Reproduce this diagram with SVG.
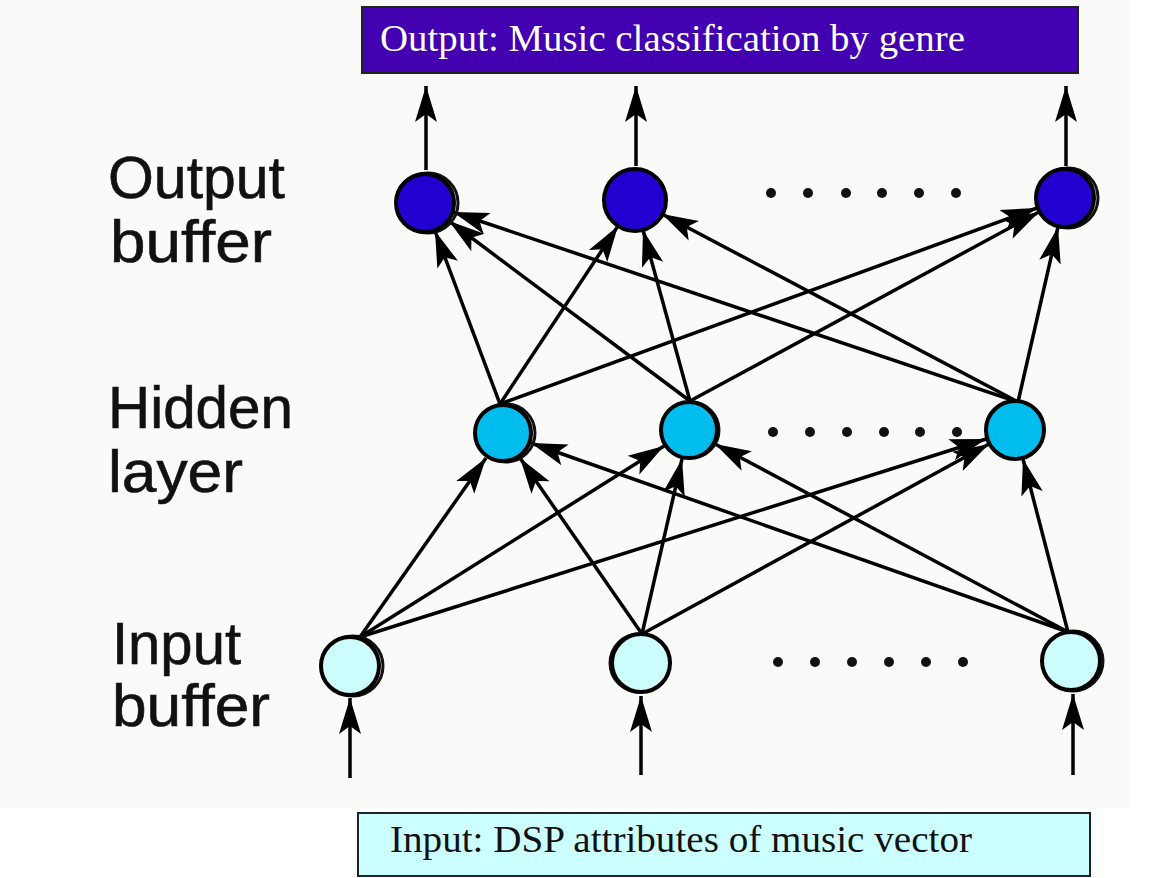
<svg xmlns="http://www.w3.org/2000/svg" width="1154" height="878" viewBox="0 0 1154 878">
<style>
.lbl{font-family:"Liberation Sans",Arial,sans-serif;font-size:60px;fill:#111;stroke:#111;stroke-width:0.6}
.box-t{font-family:"Liberation Serif","Times New Roman",serif;font-size:38px}
.edge{stroke:#000;stroke-width:3.5;fill:none;marker-end:url(#ah)}
.ring{fill:none;stroke:#111;stroke-width:3}
.out{fill:#2200D0;stroke:#000;stroke-width:4}
.hid{fill:#00BDEE;stroke:#000;stroke-width:4}
.inp{fill:#CCFCFC;stroke:#000;stroke-width:4}
.dot{fill:#111}
</style>
<defs>
<marker id="ah" markerUnits="userSpaceOnUse" markerWidth="40" markerHeight="24" refX="36" refY="11" orient="auto" overflow="visible">
<path d="M0,0 L36,11 L0,22 L8,11 z" fill="#000"/>
</marker>
</defs>
<rect x="0" y="0" width="1154" height="878" fill="#ffffff"/>
<rect x="0" y="0" width="1130" height="808" fill="#FAFAF8"/>

<g id="output-box">
<rect x="362" y="7" width="716" height="66" fill="#4200B0" stroke="#222" stroke-width="2"/>
<text class="box-t" x="380" y="51" fill="#ffffff" textLength="585" lengthAdjust="spacingAndGlyphs">Output: Music classification by genre</text>
</g>
<g id="input-box">
<rect x="358" y="813" width="732" height="63" fill="#CCFFFF" stroke="#222" stroke-width="2"/>
<text class="box-t" x="390" y="852" fill="#111" textLength="582" lengthAdjust="spacingAndGlyphs">Input: DSP attributes of music vector</text>
</g>

<g id="labels">
<text class="lbl" x="108" y="198" textLength="177" lengthAdjust="spacingAndGlyphs">Output</text>
<text class="lbl" x="110" y="262" textLength="162" lengthAdjust="spacingAndGlyphs">buffer</text>
<text class="lbl" x="108" y="428" textLength="185" lengthAdjust="spacingAndGlyphs">Hidden</text>
<text class="lbl" x="108" y="492" textLength="135" lengthAdjust="spacingAndGlyphs">layer</text>
<text class="lbl" x="112" y="664" textLength="129" lengthAdjust="spacingAndGlyphs">Input</text>
<text class="lbl" x="112" y="726" textLength="158" lengthAdjust="spacingAndGlyphs">buffer</text>
</g>

<g id="connectors">
<line class="edge" x1="350" y1="778" x2="350" y2="698"/>
<line class="edge" x1="641" y1="775" x2="641" y2="696"/>
<line class="edge" x1="1073" y1="775" x2="1073" y2="694"/>
<line class="edge" x1="426" y1="170" x2="426" y2="86"/>
<line class="edge" x1="636" y1="166" x2="636" y2="86"/>
<line class="edge" x1="1066" y1="166" x2="1066" y2="86"/>

<line class="edge" x1="360" y1="637" x2="486" y2="458"/>
<line class="edge" x1="360" y1="637" x2="664" y2="446"/>
<line class="edge" x1="360" y1="637" x2="986" y2="439"/>
<line class="edge" x1="642" y1="634" x2="520" y2="458"/>
<line class="edge" x1="642" y1="634" x2="682" y2="459"/>
<line class="edge" x1="642" y1="634" x2="989" y2="444"/>
<line class="edge" x1="1068" y1="632" x2="531" y2="443"/>
<line class="edge" x1="1068" y1="632" x2="715" y2="444"/>
<line class="edge" x1="1068" y1="632" x2="1023" y2="459"/>

<line class="edge" x1="500" y1="404" x2="435" y2="231"/>
<line class="edge" x1="500" y1="404" x2="618" y2="226"/>
<line class="edge" x1="500" y1="404" x2="1037" y2="208"/>
<line class="edge" x1="690" y1="401" x2="449" y2="221"/>
<line class="edge" x1="690" y1="401" x2="643" y2="230"/>
<line class="edge" x1="690" y1="401" x2="1039" y2="212"/>
<line class="edge" x1="1018" y1="402" x2="453" y2="212"/>
<line class="edge" x1="1018" y1="402" x2="662" y2="214"/>
<line class="edge" x1="1018" y1="402" x2="1058" y2="227"/>
</g>

<g id="out1"><circle class="ring" cx="428" cy="203" r="30"/><circle class="out" cx="425" cy="203" r="29"/></g>
<g id="out2"><circle class="out" cx="635" cy="200" r="31"/></g>
<g id="out3"><circle class="ring" cx="1068" cy="198" r="30"/><circle class="out" cx="1065" cy="198" r="29"/></g>

<g id="hid1"><circle class="ring" cx="506" cy="433" r="29"/><circle class="hid" cx="503" cy="433" r="28"/></g>
<g id="hid2"><circle class="ring" cx="691" cy="430" r="28"/><circle class="hid" cx="689" cy="430" r="28"/></g>
<g id="hid3"><circle class="hid" cx="1015" cy="430" r="29"/></g>

<g id="in1"><circle class="ring" cx="353" cy="666" r="30"/><circle class="inp" cx="350" cy="666" r="29"/></g>
<g id="in2"><circle class="ring" cx="639" cy="663" r="29"/><circle class="inp" cx="641" cy="663" r="29"/></g>
<g id="in3"><circle class="ring" cx="1073" cy="661" r="30"/><circle class="inp" cx="1071" cy="661" r="29"/></g>

<g id="dots-output">
<circle class="dot" cx="771" cy="193" r="5"/><circle class="dot" cx="808" cy="193" r="5"/><circle class="dot" cx="846" cy="193" r="5"/><circle class="dot" cx="882" cy="193" r="5"/><circle class="dot" cx="919" cy="193" r="5"/><circle class="dot" cx="956" cy="193" r="5"/>
</g>
<g id="dots-hidden">
<circle class="dot" cx="773" cy="432" r="5"/><circle class="dot" cx="810" cy="432" r="5"/><circle class="dot" cx="847" cy="432" r="5"/><circle class="dot" cx="884" cy="432" r="5"/><circle class="dot" cx="920" cy="432" r="5"/><circle class="dot" cx="957" cy="432" r="5"/>
</g>
<g id="dots-input">
<circle class="dot" cx="778" cy="662" r="5"/><circle class="dot" cx="815" cy="662" r="5"/><circle class="dot" cx="852" cy="662" r="5"/><circle class="dot" cx="889" cy="662" r="5"/><circle class="dot" cx="926" cy="662" r="5"/><circle class="dot" cx="963" cy="662" r="5"/>
</g>
</svg>
